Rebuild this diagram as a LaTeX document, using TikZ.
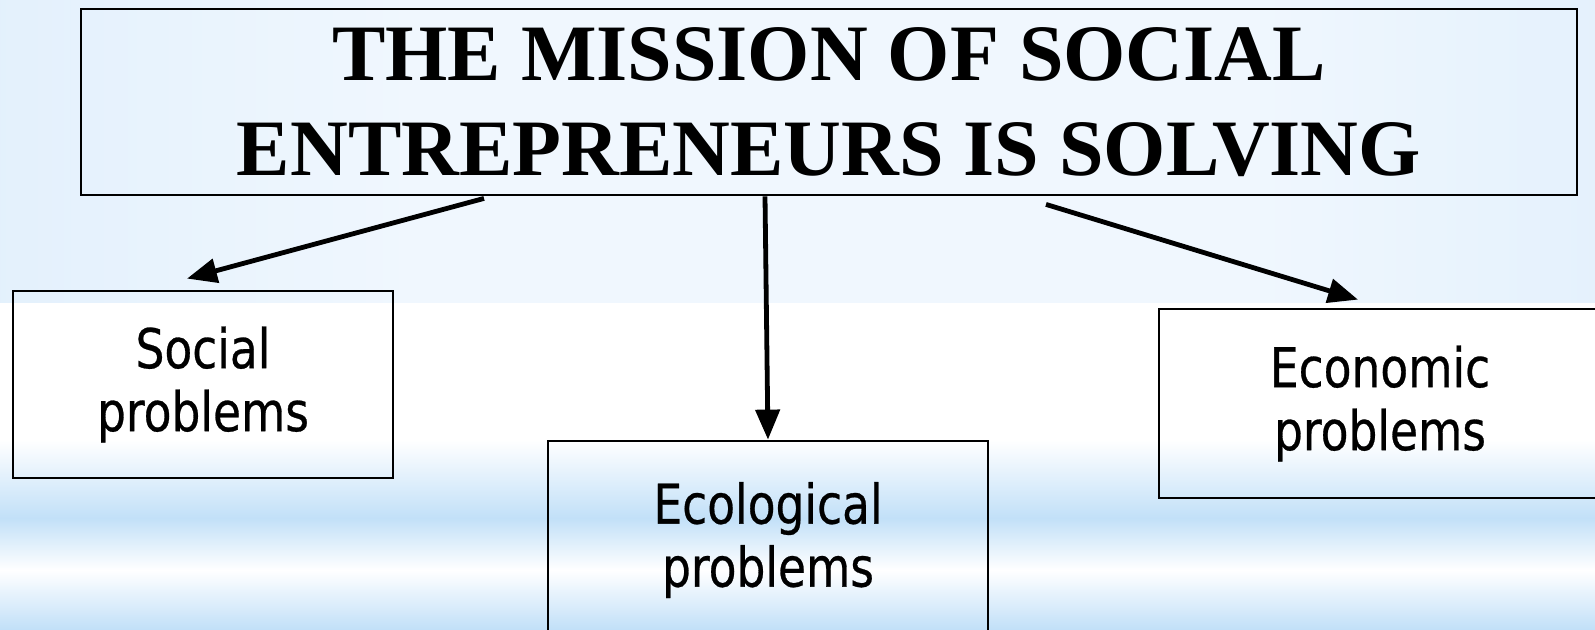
\documentclass[tikz,border=0pt]{standalone}
\usepackage{fontspec}
\usetikzlibrary{arrows.meta}
\newfontfamily\titlefont{Liberation Serif}
\newfontfamily\boxfont[FakeStretch=0.83,FakeBold=0.5]{DejaVu Sans}
\definecolor{bgblue}{RGB}{203,228,249}
\definecolor{bglight}{RGB}{240,247,254}
\definecolor{bandblue}{RGB}{194,224,248}
\pgfdeclarehorizontalshading{topbg}{100bp}{color(0bp)=(bgblue); color(38bp)=(bglight);
    color(64bp)=(bglight); color(100bp)=(bgblue)}
\begin{document}
\begin{tikzpicture}[x=0.5pt,y=-0.5pt,
    titlebox/.style={draw,line width=1.4pt,inner sep=0pt,align=center,
        minimum width=748pt,minimum height=93pt,
        font=\titlefont\bfseries\fontsize{40}{47.5}\selectfont},
    probbox/.style={draw,line width=1.4pt,inner sep=0pt,align=center,
        font=\boxfont\fontsize{27.4}{31.5}\selectfont},
    arr/.style={line width=2.4pt,-{Triangle[length=15pt,width=12pt]}}]
    \useasboundingbox (0,0) rectangle (1595,629);
    \shade[shading=topbg] (0,0) rectangle (1595,303);
    \fill[white] (0,303) rectangle (1595,440);
    \shade[top color=white,bottom color=bandblue] (0,440) rectangle (1595,518);
    \shade[top color=bandblue,bottom color=white] (0,518) rectangle (1595,570);
    \shade[top color=white,bottom color=bandblue] (0,570) rectangle (1595,629);
    \node[titlebox] (title) at (829,102) {THE MISSION OF SOCIAL\\ENTREPRENEURS IS SOLVING};
    \node[probbox,minimum width=190pt,minimum height=93.5pt] (social) at (203,384.5) {Social\\problems};
    \node[probbox,minimum width=220pt,minimum height=99pt] (ecological) at (768,540) {Ecological\\problems};
    \node[probbox,minimum width=221pt,minimum height=94.5pt] (economic) at (1380,403.5) {Economic\\problems};
    \draw[arr] ([xshift=-172.5pt,yshift=-1pt]title.south) -- ([xshift=-8pt,yshift=5.5pt]social.north);
    \draw[arr] ([xshift=-32pt]title.south) -- (ecological.north);
    \draw[arr] ([xshift=108.5pt,yshift=-4pt]title.south) -- ([xshift=-11pt,yshift=4pt]economic.north);
\end{tikzpicture}
\end{document}
